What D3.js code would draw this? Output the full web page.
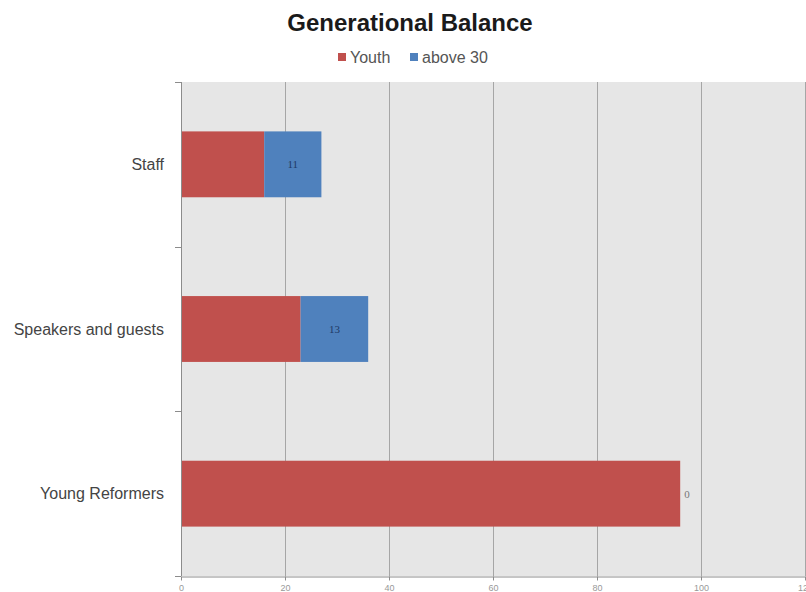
<html>
  <head>
    <script src="https://d3js.org/d3.v7.min.js"></script>
    <style>
      body { margin: 0; background: #fff; }
      svg { font-family: "Liberation Sans", Arial, sans-serif; }
      .title { font-size: 24px; font-weight: bold; fill: #1a1a1a; }
      .legend text { font-size: 16px; fill: #555; }
      .y-label { font-size: 16px; fill: #444; }
      .x-tick { font-size: 9px; fill: #999; }
      .value { font-family: "Liberation Serif", "Times New Roman", serif; font-size: 11px; }
    </style>
  </head>
  <body>
    <div id="chart"></div>
    <script>
// data
var categories = ["Staff", "Speakers and guests", "Young Reformers"];
var youth = [16, 23, 96];
var above30 = [11, 13, 0];
var seriesNames = ["Youth", "above 30"];
var xTicks = [0, 20, 40, 60, 80, 100, 120];

var width = 806;
var height = 592;
var plot = {left: 181, right: 805, top: 82, bottom: 576};

var colors = ["#c0504d", "#4f81bd"];

var svg = d3.select("#chart").append("svg")
  .attr("width", width)
  .attr("height", height);

/* Scales */
var xScale = d3.scaleLinear()
  .domain([0, 120])
  .range([plot.left, plot.right]);

var yScale = d3.scaleBand()
  .domain(categories)
  .range([plot.top, plot.bottom])
  .paddingInner(0.6)
  .paddingOuter(0.3);

/* Plot background */
svg.append("rect")
  .attr("x", plot.left)
  .attr("y", plot.top)
  .attr("width", plot.right - plot.left)
  .attr("height", plot.bottom - plot.top)
  .attr("fill", "#e6e6e6");

/* Gridlines */
svg.append("g")
  .selectAll("line")
  .data(xTicks.slice(1)).enter()
  .append("line")
  .attr("x1", d => xScale(d) + 0.5)
  .attr("x2", d => xScale(d) + 0.5)
  .attr("y1", plot.top)
  .attr("y2", plot.bottom)
  .attr("stroke", "#a6a6a6")
  .attr("stroke-width", 1);

/* Stack the two series */
var rows = categories.map((c, i) => ({cat: c, Youth: youth[i], "above 30": above30[i]}));
var stacked = d3.stack().keys(seriesNames)(rows);

var groups = svg.append("g")
  .selectAll("g")
  .data(stacked).enter()
  .append("g")
  .attr("fill", (d, i) => colors[i]);

groups.selectAll("rect")
  .data(d => d).enter()
  .append("rect")
  .attr("x", d => xScale(d[0]))
  .attr("y", d => yScale(d.data.cat))
  .attr("width", d => xScale(d[1]) - xScale(d[0]))
  .attr("height", yScale.bandwidth());

/* Value labels for "above 30" */
svg.append("g")
  .selectAll("text")
  .data(stacked[1]).enter()
  .append("text")
  .attr("class", "value")
  .attr("x", d => d[1] > d[0] ? (xScale(d[0]) + xScale(d[1])) / 2 : xScale(d[1]) + 4)
  .attr("y", d => yScale(d.data.cat) + yScale.bandwidth() / 2)
  .attr("dy", "0.35em")
  .attr("text-anchor", d => d[1] > d[0] ? "middle" : "start")
  .attr("fill", d => d[1] > d[0] ? "#1f3a66" : "#777")
  .text(d => d[1] - d[0]);

/* Y axis */
var yAxis = svg.append("g");
yAxis.append("line")
  .attr("x1", plot.left + 0.5).attr("x2", plot.left + 0.5)
  .attr("y1", plot.top).attr("y2", plot.bottom)
  .attr("stroke", "#8c8c8c");
var bounds = d3.range(categories.length + 1).map(i => plot.top + i * yScale.step());
yAxis.selectAll(".tick")
  .data(bounds).enter()
  .append("line")
  .attr("x1", plot.left - 6).attr("x2", plot.left)
  .attr("y1", d => Math.round(d) + 0.5).attr("y2", d => Math.round(d) + 0.5)
  .attr("stroke", "#8c8c8c");
yAxis.selectAll("text")
  .data(categories).enter()
  .append("text")
  .attr("class", "y-label")
  .attr("x", 164)
  .attr("y", d => yScale(d) + yScale.bandwidth() / 2)
  .attr("dy", "0.35em")
  .attr("text-anchor", "end")
  .text(d => d);

/* X axis */
var xAxis = d3.axisBottom(xScale)
  .tickValues(xTicks)
  .tickSize(4)
  .tickSizeOuter(0);

var gx = svg.append("g")
  .attr("transform", `translate(0, ${plot.bottom + 0.5})`)
  .call(xAxis);
gx.select(".domain").attr("stroke", "#8c8c8c");
gx.selectAll(".tick line").attr("stroke", "#8c8c8c");
gx.selectAll(".tick text")
  .attr("class", "x-tick")
  .attr("font-family", null)
  .attr("font-size", null)
  .attr("fill", null)
  .attr("y", 8);

/* Title */
svg.append("text")
  .attr("class", "title")
  .attr("x", 410)
  .attr("y", 31)
  .attr("text-anchor", "middle")
  .text("Generational Balance");

/* Legend */
var legend = svg.append("g").attr("class", "legend");
var legendX = [338, 410];
seriesNames.forEach(function(name, i) {
  legend.append("rect")
    .attr("x", legendX[i])
    .attr("y", 53)
    .attr("width", 8)
    .attr("height", 8)
    .attr("fill", colors[i]);
  legend.append("text")
    .attr("x", legendX[i] + 12)
    .attr("y", 63)
    .text(name);
});
    </script>
  </body>
</html>
